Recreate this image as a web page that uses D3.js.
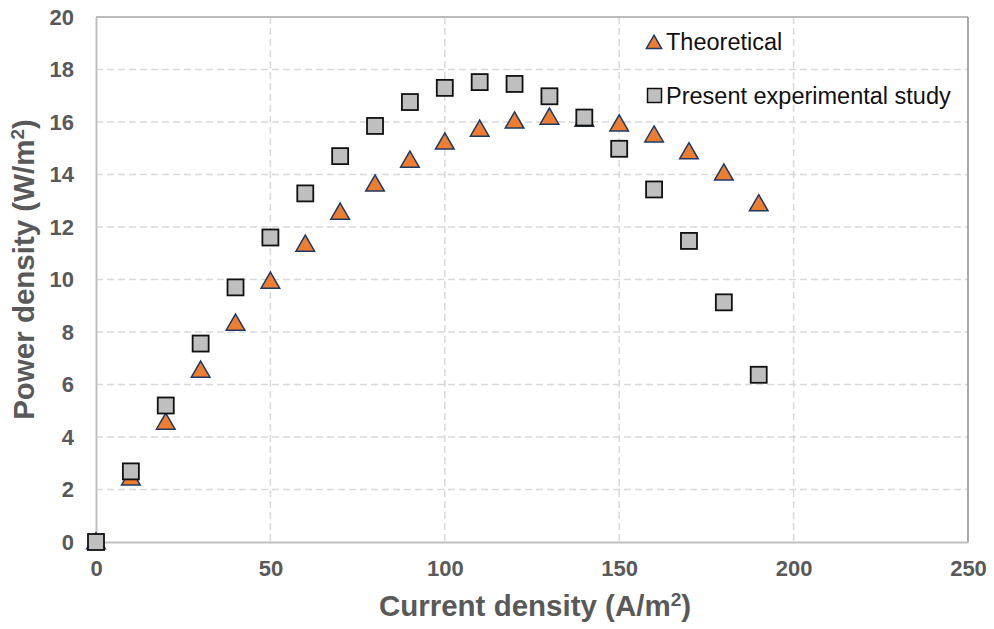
<!DOCTYPE html>
<html>
<head>
<meta charset="utf-8">
<script src="https://cdn.jsdelivr.net/npm/d3@7"></script>
<style>
  html, body { margin: 0; padding: 0; background: #fff; }
  svg { display: block; font-family: Arial, "Liberation Sans", sans-serif; }
</style>
</head>
<body>
<div id="chart"></div>
<script>
// current density (A/m²)
const currentDensity = [0, 10, 20, 30, 40, 50, 60, 70, 80, 90, 100, 110, 120, 130, 140, 150, 160, 170, 180, 190];
// power density (W/m²)
const theoretical = [0, 2.43, 4.56, 6.54, 8.33, 9.93, 11.34, 12.56, 13.63, 14.54, 15.23, 15.72, 16.03, 16.18, 16.1, 15.92, 15.5, 14.86, 14.05, 12.88];
const experimental = [0, 2.69, 5.2, 7.56, 9.7, 11.6, 13.28, 14.7, 15.85, 16.76, 17.3, 17.52, 17.45, 16.98, 16.17, 14.98, 13.43, 11.47, 9.13, 6.37];
const xTicks = [0, 50, 100, 150, 200, 250];
const yTicks = [0, 2, 4, 6, 8, 10, 12, 14, 16, 18, 20];

const W = 994, H = 629;
const M = { top: 17, right: 26, bottom: 87, left: 96 };
const innerW = W - M.left - M.right, innerH = H - M.top - M.bottom;

const svg = d3.select('#chart').append('svg').attr('width', W).attr('height', H);
const g = svg.append('g').attr('transform', `translate(${M.left},${M.top})`);

const x = d3.scaleLinear().domain([0, 250]).range([0, innerW]);
const y = d3.scaleLinear().domain([0, 20]).range([innerH, 0]);

// grid
g.append('g').selectAll('line').data(yTicks.filter(d => d > 0 && d < 20)).join('line')
  .attr('x1', 0).attr('x2', innerW).attr('y1', d => y(d)).attr('y2', d => y(d))
  .attr('stroke', '#d9d9d9').attr('stroke-width', 1.5).attr('stroke-dasharray', '7 4');
g.append('g').selectAll('line').data(xTicks.filter(d => d > 0 && d < 250)).join('line')
  .attr('y1', 0).attr('y2', innerH).attr('x1', d => x(d)).attr('x2', d => x(d))
  .attr('stroke', '#d9d9d9').attr('stroke-width', 1.5).attr('stroke-dasharray', '7 4');

// frame
g.append('line').attr('x1', 0).attr('x2', innerW).attr('y1', 0).attr('y2', 0)
  .attr('stroke', '#a6a6a6').attr('stroke-width', 1.5);
g.append('line').attr('x1', innerW).attr('x2', innerW).attr('y1', 0).attr('y2', innerH)
  .attr('stroke', '#8c8c8c').attr('stroke-width', 1.5);

// axes
const xAxis = g.append('g').attr('transform', `translate(0,${innerH})`)
  .call(d3.axisBottom(x).tickValues(xTicks).tickSize(0).tickPadding(22));
const yAxis = g.append('g')
  .call(d3.axisLeft(y).tickValues(yTicks).tickSize(0).tickPadding(22));
[xAxis, yAxis].forEach(a => {
  a.attr('font-size', null).attr('font-family', null);
  a.select('.domain').attr('stroke', '#bfbfbf').attr('stroke-width', 2);
  a.selectAll('text').style('font-size', '22px').style('font-weight', 'bold')
    .attr('fill', '#595959');
});
xAxis.selectAll('text').attr('dy', '0.55em');

// axis titles
svg.append('text').attr('x', 535).attr('y', 616)
  .attr('text-anchor', 'middle').style('font-size', '29.5px').style('font-weight', 'bold').attr('fill', '#595959')
  .html('Current density (A/m<tspan baseline-shift="super" font-size="19">2</tspan>)');
svg.append('text').attr('transform', `translate(34,${M.top + innerH / 2 - 10}) rotate(-90)`)
  .attr('text-anchor', 'middle').style('font-size', '29.5px').style('font-weight', 'bold').attr('fill', '#595959')
  .html('Power density (W/m<tspan baseline-shift="super" font-size="19">2</tspan>)');

// markers
const tri = d3.symbol().type(d3.symbolTriangle).size(150);
g.append('g').selectAll('path').data(currentDensity).join('path')
  .attr('transform', (d, i) => `translate(${x(d)},${y(theoretical[i]) + 1.5})`)
  .attr('d', tri).attr('fill', '#ed7d31').attr('stroke', '#1f3864').attr('stroke-width', 1.5);

const S = 16;
g.append('g').selectAll('rect').data(currentDensity).join('rect')
  .attr('x', d => x(d) - S / 2).attr('y', (d, i) => y(experimental[i]) - S / 2)
  .attr('width', S).attr('height', S)
  .attr('fill', '#bfbfbf').attr('stroke', '#111').attr('stroke-width', 1.8);

// legend
const leg = svg.append('g');
leg.append('path').attr('transform', 'translate(654,44)')
  .attr('d', d3.symbol().type(d3.symbolTriangle).size(100))
  .attr('fill', '#ed7d31').attr('stroke', '#1f3864').attr('stroke-width', 1.5);
leg.append('text').attr('x', 666).attr('y', 50).style('font-size', '23.5px').attr('fill', '#111').text('Theoretical');
leg.append('rect').attr('x', 647.5).attr('y', 88.5).attr('width', 14).attr('height', 14)
  .attr('fill', '#bfbfbf').attr('stroke', '#111').attr('stroke-width', 1.5);
leg.append('text').attr('x', 666).attr('y', 104).style('font-size', '23.5px').attr('fill', '#111').text('Present experimental study');
</script>
</body>
</html>
